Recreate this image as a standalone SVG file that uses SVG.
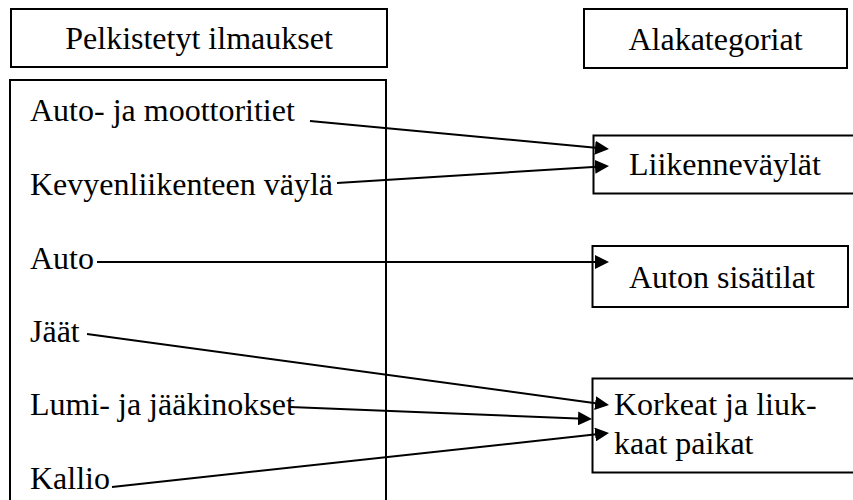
<svg xmlns="http://www.w3.org/2000/svg" width="853" height="500" viewBox="0 0 853 500">
<style>
.box{fill:#fff;stroke:#000;stroke-width:2}
.t{font-family:'Liberation Serif','Times New Roman',Tinos,'DejaVu Serif',serif;font-size:32px;fill:#000}
.c{text-anchor:middle}
.conn line{stroke:#000;stroke-width:2;marker-end:url(#ah)}
</style>
<defs>
<marker id="ah" markerUnits="userSpaceOnUse" viewBox="0 0 14 14" markerWidth="14" markerHeight="14" refX="6" refY="7" orient="auto">
<path d="M0,0 L14,7 L0,14 Z" fill="#000"/>
</marker>
</defs>
<rect width="853" height="500" fill="#fff"/>
<g id="hdr-left"><rect class="box" x="11" y="9" width="376" height="58"/><text class="t c" x="199" y="49" font-family="Liberation Serif">Pelkistetyt ilmaukset</text></g>
<g id="hdr-right"><rect class="box" x="584" y="9" width="263" height="59"/><text class="t c" x="715.5" y="50">Alakategoriat</text></g>
<g id="list"><rect class="box" x="10" y="80" width="376" height="440"/>
<text class="t" x="30" y="121">Auto- ja moottoritiet</text>
<text class="t" x="30" y="195">Kevyenliikenteen väylä</text>
<text class="t" x="30" y="269">Auto</text>
<text class="t" x="30" y="342">Jäät</text>
<text class="t" x="30" y="415">Lumi- ja jääkinokset</text>
<text class="t" x="30" y="489">Kallio</text>
</g>
<g id="liikenne"><rect class="box" x="593.5" y="135.5" width="280" height="58"/><text class="t" x="629" y="175">Liikenneväylät</text></g>
<g id="auton"><rect class="box" x="592.5" y="246" width="255.5" height="61"/><text class="t" x="629" y="288">Auton sisätilat</text></g>
<g id="korkeat"><rect class="box" x="592.5" y="378.5" width="280" height="94"/><text class="t" x="614" y="415">Korkeat ja liuk-</text><text class="t" x="614" y="454">kaat paikat</text></g>
<g id="connectors" class="conn">
<line x1="310" y1="121" x2="601" y2="148.25"/>
<line x1="337" y1="183" x2="601" y2="166.5"/>
<line x1="97" y1="262" x2="601" y2="262"/>
<line x1="87" y1="334" x2="601.1" y2="403.9"/>
<line x1="290" y1="407" x2="584" y2="418.7"/>
<line x1="112" y1="487" x2="601.05" y2="433.86"/>
</g>
</svg>
